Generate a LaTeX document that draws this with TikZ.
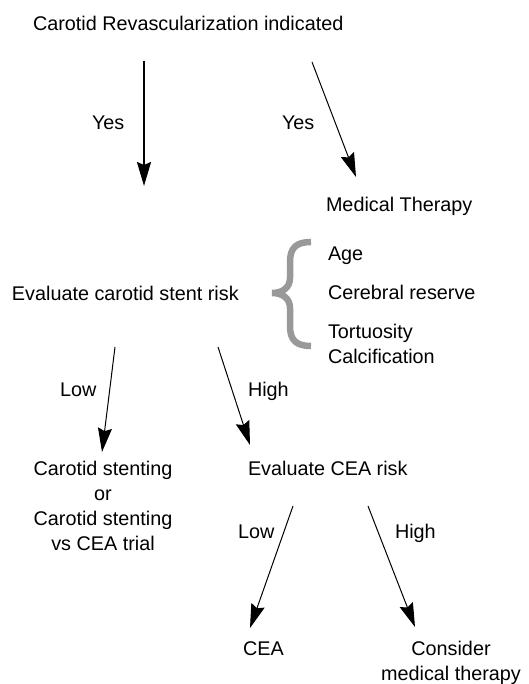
\documentclass[tikz,border=0pt]{standalone}
\usepackage{fontspec}
\setmainfont{Liberation Sans}
\usetikzlibrary{arrows.meta}
\tikzset{
  txt/.style={inner sep=0pt, outer sep=0pt, font=\fontsize{19.8}{25}\selectfont},
  arr/.style={draw=black, line width=1pt, -{Stealth[length=24pt,width=14pt,inset=3pt]}},
  thickarr/.style={arr, line width=2pt},
  brace/.style={draw=black!40, line width=6.5pt, line cap=butt}
}
\begin{document}
\begin{tikzpicture}[x=1pt,y=-1pt]
\useasboundingbox (0,0) rectangle (529,684);
% texts
\node[txt, anchor=base west] (title) at (33,31) {Carotid Revascularization indicated};
\node[txt, anchor=base west] (yes1) at (92,130) {Yes};
\node[txt, anchor=base west] (yes2) at (282,130) {Yes};
\node[txt, anchor=base west] (med) at (326,212) {Medical Therapy};
\node[txt, anchor=base west] (evalstent) at (12,300) {Evaluate carotid stent risk};
\node[txt, anchor=base west] (age) at (328,260) {Age};
\node[txt, anchor=base west] (cereb) at (328,299) {Cerebral reserve};
\node[txt, anchor=base west] (tort) at (328,338) {Tortuosity};
\node[txt, anchor=base west] (calc) at (328,363) {Calcification};
\node[txt, anchor=base west] (low1) at (60,396) {Low};
\node[txt, anchor=base west] (high1) at (248,396) {High};
\node[txt, anchor=north, align=center] (stent) at (103,461) {Carotid stenting\\or\\Carotid stenting\\vs CEA trial};
\node[txt, anchor=base west] (evalcea) at (248,475) {Evaluate CEA risk};
\node[txt, anchor=base west] (low2) at (238,538) {Low};
\node[txt, anchor=base west] (high2) at (395,538) {High};
\node[txt, anchor=base west] (cea) at (243,655) {CEA};
\node[txt, anchor=north, align=center] (consider) at (451,641) {Consider\\medical therapy};
% arrow end points
\coordinate (a1s) at (144,61);  \coordinate (a1e) at (144,186);
\coordinate (a2s) at (312,62);  \coordinate (a2e) at (356,177);
\coordinate (a3s) at (115,347); \coordinate (a3e) at (102,452);
\coordinate (a4s) at (218,347); \coordinate (a4e) at (250,445);
\coordinate (a5s) at (293,506); \coordinate (a5e) at (250,628);
\coordinate (a6s) at (368,506); \coordinate (a6e) at (415,627);
\draw[thickarr] (a1s) -- (a1e);
\draw[arr] (a2s) -- (a2e);
\draw[arr] (a3s) -- (a3e);
\draw[arr] (a4s) -- (a4e);
\draw[arr] (a5s) -- (a5e);
\draw[arr] (a6s) -- (a6e);
% brace
\draw[brace] (311,242) .. controls (296,242) and (290,248) .. (290,262)
  -- (290,278) .. controls (290,288) and (282,293) .. (272,293)
  .. controls (282,293) and (290,298) .. (290,308)
  -- (290,326) .. controls (290,340) and (296,346) .. (311,346);
\end{tikzpicture}
\end{document}
